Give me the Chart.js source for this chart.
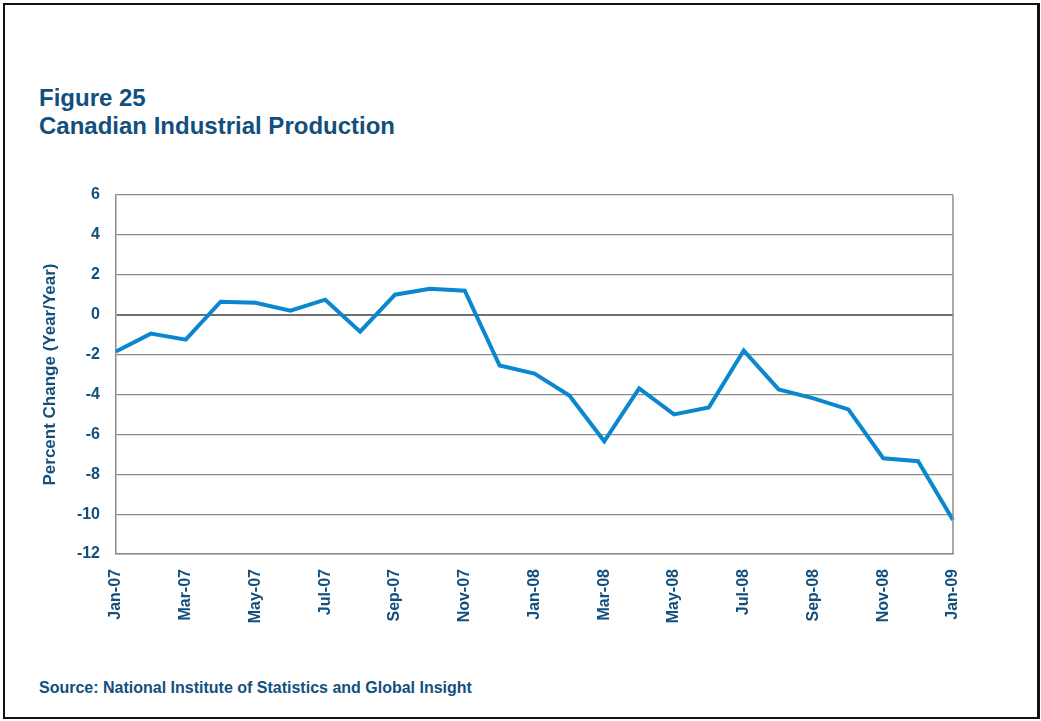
<!DOCTYPE html>
<html>
<head>
<meta charset="utf-8">
<script src="https://cdn.jsdelivr.net/npm/chart.js@4.4.1/dist/chart.umd.min.js"></script>
<style>
  html, body { margin: 0; padding: 0; background: #fff; }
  body { width: 1041px; height: 721px; position: relative; overflow: hidden;
         font-family: 'Liberation Sans', Arial, sans-serif; }
  #frame { position: absolute; left: 3px; top: 3px; width: 1032px; height: 712px;
           border: 2px solid #111; border-right-width: 3px; }
  .title { position: absolute; left: 39px; color: #124f7d; font-weight: bold;
           font-size: 24px; line-height: 26px; margin: 0; white-space: nowrap; }
  #source { position: absolute; left: 39px; top: 679px; color: #124f7d;
            font-weight: bold; font-size: 16px; line-height: 18px; white-space: nowrap; }
  #chart-wrap { position: absolute; left: 0; top: 0; width: 1041px; height: 721px; }
</style>
</head>
<body>
<div id="frame"></div>
<div class="title" style="top:85px">Figure 25</div>
<div class="title" style="top:113px">Canadian Industrial Production</div>
<div id="source">Source: National Institute of Statistics and Global Insight</div>
<div id="chart-wrap"><canvas id="ip-chart" width="1041" height="721"></canvas></div>

<script>
// ── DATA ─────────────────────────────────────────────────────────────────────
const months = [
  'Jan-07', 'Feb-07', 'Mar-07', 'Apr-07', 'May-07', 'Jun-07', 'Jul-07',
  'Aug-07', 'Sep-07', 'Oct-07', 'Nov-07', 'Dec-07', 'Jan-08', 'Feb-08',
  'Mar-08', 'Apr-08', 'May-08', 'Jun-08', 'Jul-08', 'Aug-08', 'Sep-08',
  'Oct-08', 'Nov-08', 'Dec-08', 'Jan-09'
];
// Year-over-year percent change in industrial production
const pctChange = [
  -1.85, -0.95, -1.25, 0.65, 0.6, 0.2, 0.75,
  -0.85, 1.0, 1.3, 1.2, -2.55, -2.95, -4.05,
  -6.35, -3.7, -5.0, -4.65, -1.8, -3.75, -4.2,
  -4.75, -7.2, -7.35, -10.3
];
const yTicks = [6, 4, 2, 0, -2, -4, -6, -8, -10, -12];

// ── STYLE ────────────────────────────────────────────────────────────────────
const NAVY = '#124f7d';
const LINE_BLUE = '#0a87cf';
const GRID = '#8c8c8c';

// right-hand edge of the plot box (Chart.js only draws left/bottom borders)
const plotFrame = {
  id: 'plotFrame',
  afterDraw(chart) {
    const { ctx, chartArea: a } = chart;
    ctx.save();
    ctx.strokeStyle = GRID;
    ctx.lineWidth = 1.5;
    ctx.beginPath();
    ctx.moveTo(a.right, a.top);
    ctx.lineTo(a.right, a.bottom);
    ctx.stroke();
    ctx.restore();
  }
};

Chart.defaults.font.family = "'Liberation Sans', Arial, sans-serif";
Chart.defaults.font.weight = 'bold';
Chart.defaults.color = NAVY;

new Chart(document.getElementById('ip-chart'), {
  type: 'line',
  data: {
    labels: months,
    datasets: [{
      data: pctChange,
      borderColor: LINE_BLUE,
      borderWidth: 4,
      pointRadius: 0,
      tension: 0,
      fill: false,
      borderJoinStyle: 'miter',
    }]
  },
  options: {
    responsive: false,
    animation: false,
    layout: { padding: { left: 0, top: 195, right: 88, bottom: 87 } },
    plugins: { legend: { display: false }, tooltip: { enabled: false } },
    scales: {
      x: {
        type: 'category',
        offset: false,
        grid: { display: false, drawTicks: false },
        border: { display: true, color: GRID, width: 1.5 },
        ticks: {
          autoSkip: false,
          maxRotation: 90,
          minRotation: 90,
          padding: 15,
          font: { size: 16, weight: 'bold' },
          callback(val, i) { return i % 2 === 0 ? months[i] : ''; }
        },
        afterFit(scale) { scale.height = 80; }
      },
      y: {
        min: -12,
        max: 6,
        afterBuildTicks(scale) { scale.ticks = yTicks.map(v => ({ value: v })); },
        grid: {
          drawTicks: false,
          color: c => c.tick && c.tick.value === 0 ? '#707070' : GRID,
          lineWidth: c => c.tick && c.tick.value === 0 ? 2 : 1.2,
        },
        border: { display: true, color: GRID, width: 1.5 },
        ticks: { padding: 16, font: { size: 16, weight: 'bold' } },
        title: {
          display: true,
          text: 'Percent Change (Year/Year)',
          font: { size: 17, weight: 'bold' },
          padding: { top: 40, bottom: 0 }
        },
        afterFit(scale) { scale.width = 116; }
      }
    }
  },
  plugins: [plotFrame]
});
</script>
</body>
</html>
